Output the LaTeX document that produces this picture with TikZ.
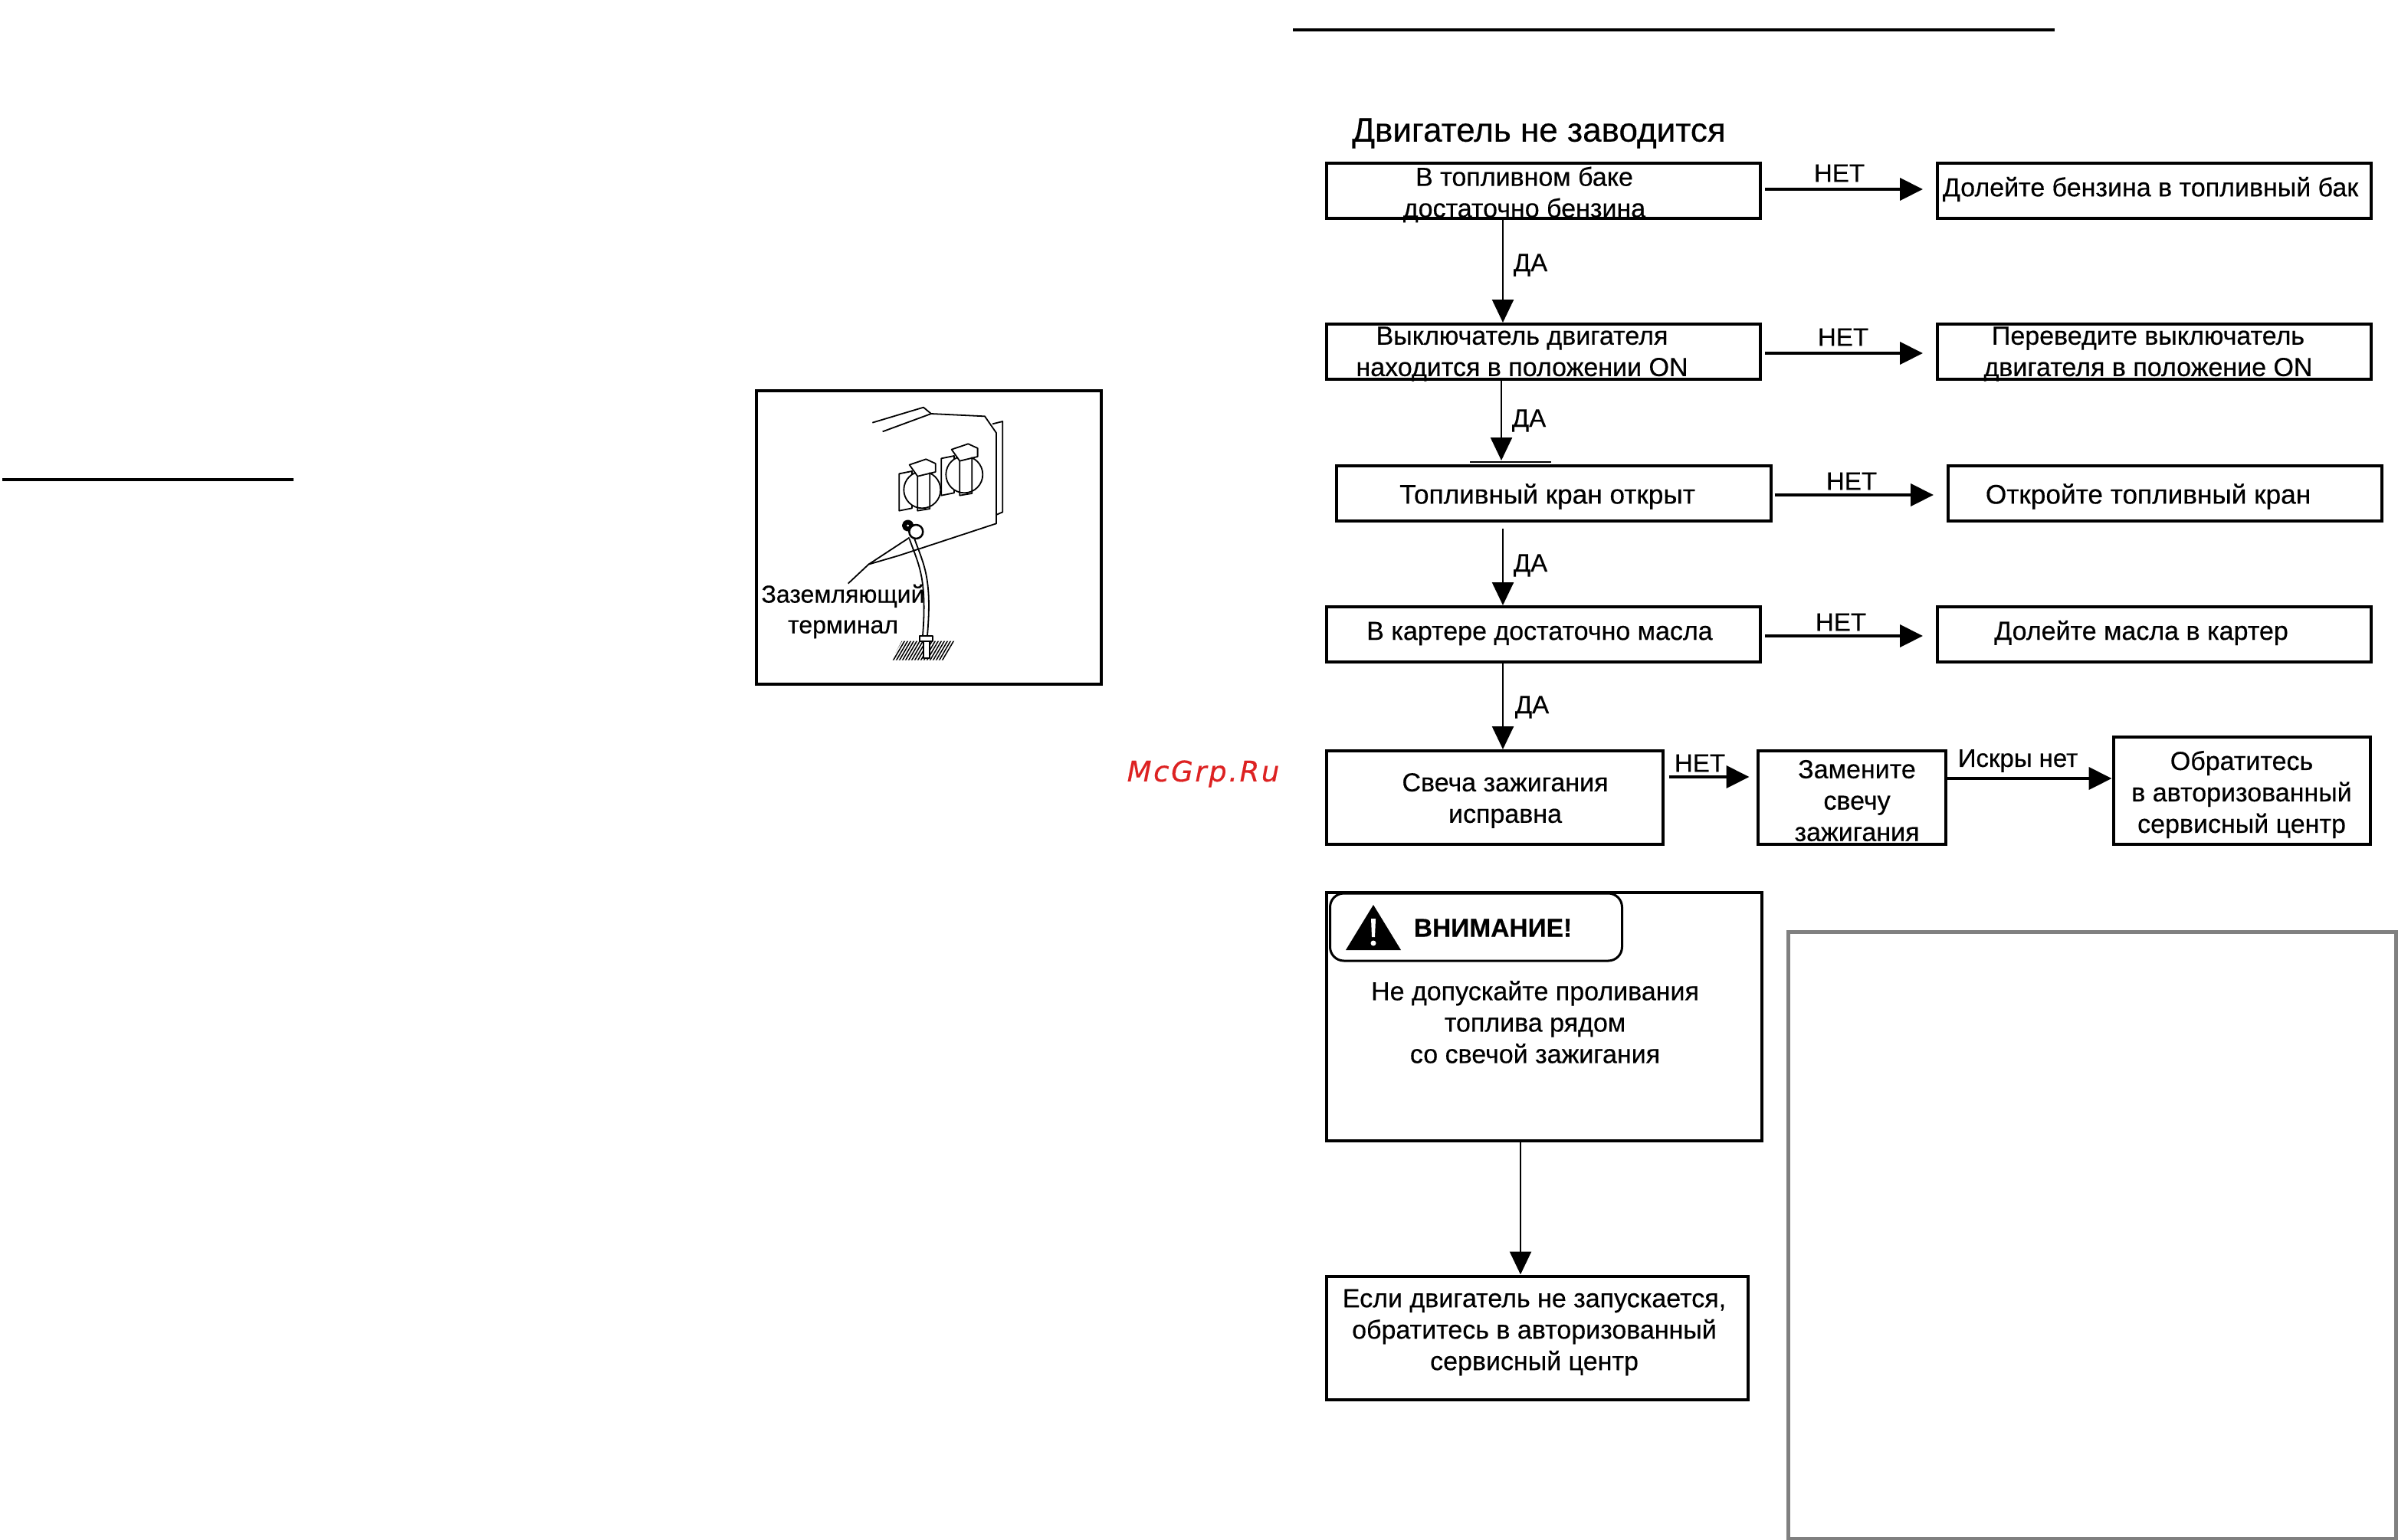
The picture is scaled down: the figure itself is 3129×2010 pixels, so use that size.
\documentclass[tikz,border=0pt]{standalone}
\usepackage{fontspec}
\setmainfont[FakeBold=0.4]{Liberation Sans}
\newfontfamily\wmfont[LetterSpace=7,FakeBold=0.4]{DejaVu Sans}
\usetikzlibrary{arrows.meta}
\definecolor{wmred}{HTML}{DD2222}

\begin{document}
\begin{tikzpicture}[x=1pt,y=-1pt]
\tikzstyle{box} = [rectangle, draw, line width=4pt, inner sep=0pt]
\tikzstyle{txt} = [align=center, inner sep=0pt, font=\fontsize{34}{41}\selectfont]
\tikzstyle{txtbig} = [inner sep=0pt, font=\fontsize{35.2}{41}\selectfont]
\tikzstyle{tag} = [inner sep=0pt, font=\fontsize{33}{38}\selectfont]
\tikzstyle{arrowh} = [line width=4pt,-{Stealth[length=30pt,width=29pt,inset=0pt]}]
\tikzstyle{arrowv} = [line width=2.5pt,-{Stealth[length=30pt,width=28pt,inset=0pt]}]
\tikzstyle{sketch} = [line width=1.8pt, line join=round]

\useasboundingbox (0,0) rectangle (3129,2010);
\fill [white] (0,0) rectangle (3129,2010);

\draw [line width=4pt] (3,626) -- (383,626);
\draw [line width=4pt] (1687,39) -- (2681,39);
\draw [line width=1.5pt] (1918,603) -- (2024,603);
\node (wm) [inner sep=0pt, text=wmred, font=\wmfont\itshape\fontsize{37}{40}\selectfont] at (1570,1010) {McGrp.Ru};

\node (title) [inner sep=0pt, font=\fontsize{44}{50}\selectfont] at (2008,174) {Двигатель не заводится};

% left column
\node (fuel) [box, minimum width=566, minimum height=72] at (2014,249) {};
\node (switch) [box, minimum width=566, minimum height=72] at (2014,459) {};
\node (tap) [box, minimum width=567, minimum height=72] at (2027,644) {};
\node (oil) [box, minimum width=566, minimum height=72] at (2014,828) {};
\node (plug) [box, minimum width=439, minimum height=122] at (1950,1041) {};

% right column
\node (addfuel) [box, minimum width=566, minimum height=72] at (2811,249) {};
\node (turnon) [box, minimum width=566, minimum height=72] at (2811,459) {};
\node (opentap) [box, minimum width=566, minimum height=72] at (2825,644) {};
\node (addoil) [box, minimum width=566, minimum height=72] at (2811,828) {};
\node (newplug) [box, minimum width=245, minimum height=122] at (2416,1041) {};
\node (service) [box, minimum width=335, minimum height=140] at (2925,1032) {};

% bottom
\node (warn) [box, minimum width=568, minimum height=324] at (2015,1327) {};
\node (warnhead) [rectangle, draw, line width=3pt, rounded corners=18pt, minimum width=381, minimum height=88] at (1926,1210) {};
\node (last) [box, minimum width=550, minimum height=161] at (2006,1746) {};
\node (blank) [rectangle, draw=gray, line width=5pt, minimum width=793, minimum height=792] at (2730,1612) {};

% texts
\node (fuelt) [txt] at (1989,254) {В топливном баке\\достаточно бензина};
\node (switcht) [txt] at (1986,462) {Выключатель двигателя\\находится в положении ON};
\node (tapt) [txtbig] at (2019,648) {Топливный кран открыт};
\node (oilt) [txt] at (2009,827) {В картере достаточно масла};
\node (plugt) [txt] at (1964,1045) {Свеча зажигания\\исправна};
\node (addfuelt) [txt] at (2806,247) {Долейте бензина в топливный бак};
\node (turnont) [txt] at (2803,462) {Переведите выключатель\\двигателя в положение ON};
\node (opentapt) [txtbig] at (2803,648) {Откройте топливный кран};
\node (addoilt) [txt] at (2794,826) {Долейте масла в картер};
\node (newplugt) [txt] at (2423,1045) {Замените\\свечу\\зажигания};
\node (servicet) [txt] at (2925,1037) {Обратитесь\\в авторизованный\\сервисный центр};
\node (warnt) [txt] at (2003,1334) {Не допускайте проливания\\топлива рядом\\со свечой зажигания};
\node (lastt) [txt] at (2002,1739) {Если двигатель не запускается,\\обратитесь в авторизованный\\сервисный центр};
\node (warnword) [inner sep=0pt, font=\bfseries\fontsize{33.5}{38}\selectfont] at (1948,1211) {ВНИМАНИЕ!};

% warning sign
\fill (1792,1181) -- (1828,1240) -- (1756,1240) -- cycle;
\fill [white] (1789,1199) -- (1795,1199) -- (1794,1223) -- (1790,1223) -- cycle;
\fill [white] (1792,1231) circle (3.5);

% arrows
\draw [arrowv] ([xshift=-53]fuel.south) -- ([xshift=-53]switch.north);
\draw [arrowv] ([xshift=-55]switch.south) -- ([xshift=-68,yshift=5]tap.north);
\draw [arrowv] ([xshift=-66,yshift=-8]tap.south) -- ([xshift=-53]oil.north);
\draw [arrowv] ([xshift=-53]oil.south) -- ([xshift=11]plug.north);
\draw [arrowv] ([xshift=-31]warn.south) -- ([xshift=-22]last.north);
\draw [arrowh] ([xshift=4,yshift=2]fuel.east) -- ([xshift=-17,yshift=2]addfuel.west);
\draw [arrowh] ([xshift=4,yshift=-2]switch.east) -- ([xshift=-17,yshift=-2]turnon.west);
\draw [arrowh] ([xshift=3,yshift=-2]tap.east) -- ([xshift=-17,yshift=-2]opentap.west);
\draw [arrowh] ([xshift=4,yshift=-2]oil.east) -- ([xshift=-17,yshift=-2]addoil.west);
\draw [arrowh] ([xshift=6,yshift=27]plug.east) -- ([xshift=-9,yshift=27]newplug.west);
\draw [arrowh] ([yshift=25]newplug.east) -- ([yshift=16]service.west);

% arrow labels
\node (no1) [tag] at (2400,226) {НЕТ};
\node (no2) [tag] at (2405,440) {НЕТ};
\node (no3) [tag] at (2416,628) {НЕТ};
\node (no4) [tag] at (2402,812) {НЕТ};
\node (no5) [tag] at (2218,996) {НЕТ};
\node (nospark) [tag] at (2633,993) {Искры нет};
\node (yes1) [tag] at (1997,346) {ДА};
\node (yes2) [tag] at (1995,549) {ДА};
\node (yes3) [tag] at (1997,738) {ДА};
\node (yes4) [tag] at (1999,923) {ДА};

% grounding sketch
\node (frame) [rectangle, draw, line width=4.5pt, minimum width=450, minimum height=383] at (1212,701.5) {};
\begin{scope}[shift={(960,490)}, x=0.3333pt, y=-0.3333pt, sketch]
  \draw (535,185) -- (735,125) -- (765,150) -- (975,160) -- (1020,225) -- (1020,580) -- (640,705) -- (520,740);
  \draw (575,220) -- (765,150);
  \draw (1005,190) -- (1045,180) -- (1045,535) -- (1022,545);
  \draw (440,815) -- (520,740) -- (680,635);
  % sockets
  \foreach \dx/\dy in {0/0, 165/-60} {
    \begin{scope}[shift={(\dx,\dy)}]
      \draw [fill=white] (640,385) -- (690,375) -- (690,520) -- (640,530) -- cycle;
      \draw [fill=white] (730,448) circle (72);
      \draw [fill=white] (680,350) -- (745,328) -- (782,345) -- (782,378) -- (712,395) -- cycle;
      \draw (712,395) -- (712,530) -- (760,522) -- (760,380);
    \end{scope}
  }
  % terminal and wire
  \draw [line width=6pt] (674,588) circle (14);
  \draw [fill=white, line width=2.5pt] (706,612) circle (27);
  \draw (680,640) .. controls (715,740) and (750,790) .. (732,1020);
  \draw (700,640) .. controls (735,740) and (770,790) .. (750,1020);
  % ground stake
  \begin{scope}
    \clip (650,1040) -- (860,1040) -- (815,1115) -- (610,1115) -- cycle;
    \foreach \i in {0,12,...,300} {
      \draw [line width=1.5pt] (590+\i,1120) -- (640+\i,1035);
    }
  \end{scope}
  \draw [fill=white] (720,1020) rectangle (772,1040);
  \draw [fill=white] (735,1040) rectangle (760,1108);
\end{scope}
\node (groundt) [inner sep=0pt, align=center, font=\fontsize{32}{40}\selectfont] at (1100,798) {Заземляющий\\терминал};
\end{tikzpicture}
\end{document}
